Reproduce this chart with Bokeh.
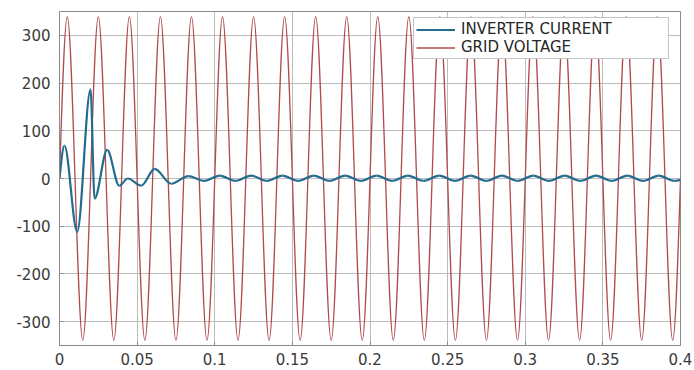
from bokeh.plotting import figure
from bokeh.models import Range1d, FixedTicker, Legend, LegendItem, ColumnDataSource
from bokeh.embed import file_html
from bokeh.resources import INLINE

# ---- data (extrema of each waveform) ----
voltage_t = [0.0, 0.005, 0.015, 0.025, 0.035, 0.045, 0.055, 0.065, 0.075, 0.085, 0.095,
             0.105, 0.115, 0.125, 0.135, 0.145, 0.155, 0.165, 0.175, 0.185, 0.195,
             0.205, 0.215, 0.225, 0.235, 0.245, 0.255, 0.265, 0.275, 0.285, 0.295,
             0.305, 0.315, 0.325, 0.335, 0.345, 0.355, 0.365, 0.375, 0.385, 0.395, 0.4]
voltage_v = [0, 339, -339, 339, -339, 339, -339, 339, -339, 339, -339,
             339, -339, 339, -339, 339, -339, 339, -339, 339, -339,
             339, -339, 339, -339, 339, -339, 339, -339, 339, -339,
             339, -339, 339, -339, 339, -339, 339, -339, 339, -339, 0]

current_t = [0.0, 0.0032, 0.0114, 0.0200, 0.0226, 0.0307, 0.0385, 0.0440, 0.0527, 0.0613,
             0.0720, 0.0830, 0.0931, 0.1032, 0.1133, 0.1234, 0.1335, 0.1436, 0.1537, 0.1638,
             0.1739, 0.1840, 0.1941, 0.2042, 0.2143, 0.2244, 0.2345, 0.2446, 0.2547, 0.2648,
             0.2749, 0.2850, 0.2951, 0.3052, 0.3153, 0.3254, 0.3355, 0.3456, 0.3557, 0.3658,
             0.3759, 0.3860, 0.3961, 0.4000]
current_v = [0, 69, -112, 187, -42, 60, -15, 0, -15, 20,
             -11, 5, -5, 6, -5, 6, -5, 6, -5, 6,
             -5, 6, -5, 6, -5, 6, -5, 6, -5, 6,
             -5, 6, -5, 6, -5, 6, -5, 6, -5, 6,
             -5, 6, -5, -3]

x_ticks = [0.0, 0.05, 0.1, 0.15, 0.2, 0.25, 0.3, 0.35, 0.4]
x_tick_labels = ["0", "0.05", "0.1", "0.15", "0.2", "0.25", "0.3", "0.35", "0.4"]
y_ticks = [-300, -200, -100, 0, 100, 200, 300]
y_tick_labels = ["-300", "-200", "-100", "0", "100", "200", "300"]

series_names = ["INVERTER CURRENT", "GRID VOLTAGE"]


def smooth_segments(t, v):
    """Cubic Bezier pieces through the read extrema (flat tangents at extrema)."""
    n = len(t)
    m = []
    for i in range(n):
        if i == 0:
            m.append(1.5 * (v[1] - v[0]) / (t[1] - t[0]))
        elif i == n - 1:
            m.append(1.5 * (v[-1] - v[-2]) / (t[-1] - t[-2]))
        else:
            if (v[i] - v[i - 1]) * (v[i + 1] - v[i]) <= 0:
                m.append(0.0)
            else:
                m.append((v[i + 1] - v[i - 1]) / (t[i + 1] - t[i - 1]))
    d = dict(x0=[], y0=[], x1=[], y1=[], cx0=[], cy0=[], cx1=[], cy1=[])
    for i in range(n - 1):
        dt = t[i + 1] - t[i]
        d["x0"].append(t[i]); d["y0"].append(v[i])
        d["x1"].append(t[i + 1]); d["y1"].append(v[i + 1])
        d["cx0"].append(t[i] + dt / 3); d["cy0"].append(v[i] + m[i] * dt / 3)
        d["cx1"].append(t[i + 1] - dt / 3); d["cy1"].append(v[i + 1] - m[i + 1] * dt / 3)
    return ColumnDataSource(d)


p = figure(width=694, height=370, output_backend="svg", toolbar_location=None,
           x_range=Range1d(0, 0.4), y_range=Range1d(-350, 350),
           min_border_left=59, min_border_right=14, min_border_top=11, min_border_bottom=25)

p.background_fill_color = "white"
p.border_fill_color = "white"
p.outline_line_color = "#8a8a8a"
p.outline_line_width = 1

volt_src = smooth_segments(voltage_t, voltage_v)
cur_src = smooth_segments(current_t, current_v)

r_volt = p.bezier(x0="x0", y0="y0", x1="x1", y1="y1", cx0="cx0", cy0="cy0", cx1="cx1", cy1="cy1",
                  source=volt_src, line_color="#b04a4d", line_width=1.3)
r_cur = p.bezier(x0="x0", y0="y0", x1="x1", y1="y1", cx0="cx0", cy0="cy0", cx1="cx1", cy1="cy1",
                 source=cur_src, line_color="#236c8e", line_width=2.2)

# axes
for ax in (p.xaxis[0], p.yaxis[0]):
    ax.axis_line_color = "#8a8a8a"
    ax.major_tick_line_color = "#8a8a8a"
    ax.major_tick_in = 4
    ax.major_tick_out = 0
    ax.minor_tick_line_color = None
    ax.major_label_text_font = "DejaVu Sans"
    ax.major_label_text_font_size = "15px"
    ax.major_label_text_color = "#3a3a3a"

p.xaxis[0].ticker = FixedTicker(ticks=x_ticks)
p.xaxis[0].major_label_overrides = {t: s for t, s in zip(x_ticks, x_tick_labels)}
p.xaxis[0].major_label_standoff = 7
p.yaxis[0].ticker = FixedTicker(ticks=y_ticks)
p.yaxis[0].major_label_overrides = {t: s for t, s in zip(y_ticks, y_tick_labels)}
p.yaxis[0].major_label_standoff = 9

p.xgrid[0].ticker = FixedTicker(ticks=x_ticks)
p.ygrid[0].ticker = FixedTicker(ticks=y_ticks)
for g in (p.xgrid[0], p.ygrid[0]):
    g.grid_line_color = "#bcbcbc"
    g.grid_line_width = 1

legend = Legend(items=[LegendItem(label=series_names[0], renderers=[r_cur]),
                       LegendItem(label=series_names[1], renderers=[r_volt])],
                location=(354, 286), margin=0, padding=2, spacing=0,
                glyph_width=39, glyph_height=15, label_height=15, label_width=205,
                label_standoff=6,
                label_text_font="DejaVu Sans", label_text_font_size="15px",
                label_text_color="#262626",
                border_line_color="#8a8a8a", border_line_width=1,
                background_fill_color="white", background_fill_alpha=1.0)
p.add_layout(legend)

open("out.html", "w").write(file_html(p, INLINE))
